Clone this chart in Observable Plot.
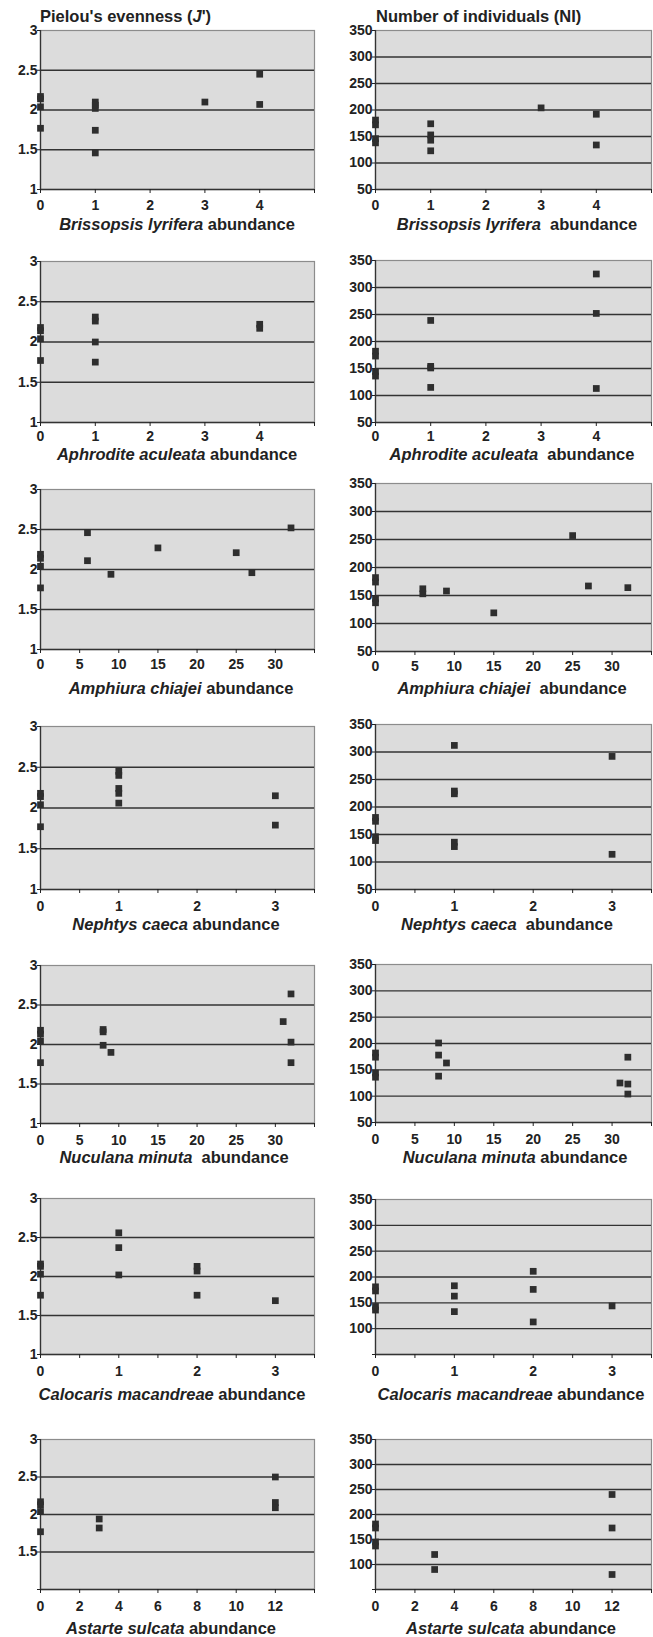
<!DOCTYPE html>
<html><head><meta charset="utf-8">
<script src="https://cdn.jsdelivr.net/npm/d3@7"></script>
<script src="https://cdn.jsdelivr.net/npm/@observablehq/plot@0.6"></script>
<style>
body{margin:0;background:#fff;font-family:"Liberation Sans",Arial,sans-serif;}
#root{position:relative;width:653px;height:1637px;overflow:hidden;background:#fff;}
.panel{position:absolute;}
.xlabel{position:absolute;font-weight:bold;font-size:16.5px;line-height:1;color:#222;white-space:pre;transform:translate(-50%,-50%);}
.title{position:absolute;font-weight:bold;font-size:16.5px;line-height:16px;color:#222;white-space:nowrap;}
</style></head><body><div id="root">
<div class="title" id="titleJ" style="left:40px;top:8px;"></div>
<div class="title" id="titleNI" style="left:376px;top:8px;"></div>
</div>
<script>
// ---------- data ----------
const speciesNames = ["Brissopsis lyrifera","Aphrodite aculeata","Amphiura chiajei","Nephtys caeca","Nuculana minuta","Calocaris macandreae","Astarte sulcata"];
const xMaxes = [5,5,35,3.5,35,3.5,14];
const xTickSteps = [1,1,5,0.5,5,0.5,2];
const xLabelSteps = [1,1,5,1,5,1,2];
const jTicks = [1,1.5,2,2.5,3];
const niTicks = [50,100,150,200,250,300,350];
const jTitle = "Pielou's evenness";
const niTitle = "Number of individuals (NI)";

const brissopsisAbundJ = [0,0,0,0,1,1,1,1,1,3,4,4];
const brissopsisJ      = [2.17,2.14,2.04,1.77,2.10,2.06,2.02,1.745,1.46,2.10,2.45,2.07];
const brissopsisAbundNI = [0,0,0,0,1,1,1,1,3,4,4];
const brissopsisNI      = [181,172,146,138,174,153,143,123,204,192,134];

const aphroditeAbundJ = [0,0,0,0,1,1,1,1,4,4];
const aphroditeJ      = [2.18,2.14,2.04,1.77,2.31,2.26,2.00,1.75,2.22,2.17];
const aphroditeAbundNI = [0,0,0,0,1,1,1,1,4,4,4];
const aphroditeNI      = [182,173,144,136,239,154,151,115,325,252,113];

const amphiuraAbundJ = [0,0,0,0,6,6,9,15,25,27,32];
const amphiuraJ      = [2.19,2.14,2.04,1.77,2.46,2.11,1.94,2.27,2.21,1.96,2.52];
const amphiuraAbundNI = [0,0,0,0,6,6,9,15,25,27,32];
const amphiuraNI      = [182,174,144,137,162,153,158,119,257,167,164];

const nephtysAbundJ = [0,0,0,0,1,1,1,1,1,3,3];
const nephtysJ      = [2.18,2.14,2.04,1.77,2.45,2.40,2.24,2.18,2.06,2.15,1.79];
const nephtysAbundNI = [0,0,0,0,1,1,1,1,1,3,3];
const nephtysNI      = [181,174,146,139,312,229,224,136,128,292,114];

const nuculanaAbundJ = [0,0,0,0,8,8,8,9,31,32,32,32];
const nuculanaJ      = [2.18,2.13,2.04,1.77,2.19,2.16,1.99,1.90,2.29,2.64,2.03,1.77];
const nuculanaAbundNI = [0,0,0,0,8,8,8,9,31,32,32,32];
const nuculanaNI      = [182,174,144,136,201,178,138,163,125,174,123,104];

const calocarisAbundJ = [0,0,0,0,1,1,1,2,2,2,3];
const calocarisJ      = [2.16,2.13,2.03,1.76,2.56,2.37,2.02,2.13,2.07,1.76,1.69];
const calocarisAbundNI = [0,0,0,0,1,1,1,2,2,2,3];
const calocarisNI      = [181,173,143,136,183,163,133,211,176,113,144];

const astarteAbundJ = [0,0,0,0,3,3,12,12,12];
const astarteJ      = [2.17,2.13,2.04,1.77,1.94,1.82,2.50,2.16,2.09];
const astarteAbundNI = [0,0,0,0,3,3,12,12,12];
const astarteNI      = [181,173,145,137,120,90,240,173,80];

const jSeries = [[brissopsisAbundJ,brissopsisJ],[aphroditeAbundJ,aphroditeJ],[amphiuraAbundJ,amphiuraJ],[nephtysAbundJ,nephtysJ],[nuculanaAbundJ,nuculanaJ],[calocarisAbundJ,calocarisJ],[astarteAbundJ,astarteJ]];
const niSeries = [[brissopsisAbundNI,brissopsisNI],[aphroditeAbundNI,aphroditeNI],[amphiuraAbundNI,amphiuraNI],[nephtysAbundNI,nephtysNI],[nuculanaAbundNI,nuculanaNI],[calocarisAbundNI,calocarisNI],[astarteAbundNI,astarteNI]];
// bottom y tick label absent on some panels (as in the original)
const hideBottomJ = [false,false,false,false,false,false,true];
const hideBottomNI = [false,false,false,false,false,true,true];

// ---------- layout ----------
const leftFrameX = [40,314];
const rightFrameX = [375,651];
const leftFrameY = [[30,189],[261,422],[489,649],[726,889],[965,1123],[1198,1354],[1439,1589]];
const rightFrameY = [[30,189],[260,422],[483,651],[724,889],[964,1122],[1199,1354],[1439,1589]];
const tickPads = [7,5,6,8,8,8,8];
const xLabelY = [224,454,688,924,1157,1394,1628];
const leftLabelX = [177,177,181,176,174,172,171];
const rightLabelX = [517,512,512,507,515,511,511];
const leftGap = [" "," "," "," ","  "," "," "];
const rightGap = ["  ","  ","  ","  "," "," "," "];

document.getElementById("titleJ").innerHTML = jTitle + " (<i>J</i>')";
document.getElementById("titleNI").textContent = niTitle;

const root = document.getElementById("root");
const mL = 36, mR = 2, mT = 8, mB = 28;

function fmt(v){ return String(v); }

function panel(fx, fy, xs, ys, xMax, tStep, lStep, yTicks, hideBottom, tickPad){
  const data = xs.map((x,i)=>({x, y: ys[i]}));
  const xTicks = d3.range(0, xMax + tStep/2, tStep);
  const yLo = yTicks[0], yHi = yTicks[yTicks.length-1];
  const fw = fx[1]-fx[0], fh = fy[1]-fy[0];
  const svg = Plot.plot({
    width: fw + mL + mR, height: fh + mT + mB,
    marginLeft: mL, marginRight: mR, marginTop: mT, marginBottom: mB,
    x: {domain: [0, xMax]},
    y: {domain: [yLo, yHi]},
    style: {fontFamily: '"Liberation Sans", Arial, sans-serif', fontSize: "14px", fontWeight: "bold", color: "#222", background: "transparent", overflow: "visible"},
    marks: [
      Plot.frame({fill: "#dcdcdc", stroke: "#8c8c8c", strokeWidth: 1.2}),
      Plot.ruleY(yTicks.slice(1, -1), {stroke: "#333", strokeWidth: 1.3}),
      Plot.ruleX([0], {stroke: "#333", strokeWidth: 1.3}),
      Plot.ruleY([yLo], {stroke: "#333", strokeWidth: 1.3}),
      Plot.axisY({ticks: yTicks, tickSize: 3, tickPadding: 0, label: null, fontWeight: "bold",
        tickFormat: d => (hideBottom && d === yLo) ? "" : fmt(d)}),
      Plot.axisX({ticks: xTicks, tickSize: 4, tickPadding: tickPad, label: null, fontWeight: "bold",
        tickFormat: d => (d >= xMax - 1e-9 || Math.abs(d/lStep - Math.round(d/lStep)) > 1e-9) ? "" : fmt(d)}),
      Plot.dot(data, {x: "x", y: "y", symbol: "square", r: 3.8, fill: "#2e2e2e", stroke: "none"})
    ]
  });
  const wrap = document.createElement("div");
  wrap.className = "panel";
  wrap.style.left = (fx[0] - mL) + "px";
  wrap.style.top = (fy[0] - mT) + "px";
  wrap.appendChild(svg);
  root.appendChild(wrap);
}

function xlabel(cx, cy, name, gap){
  const d = document.createElement("div");
  d.className = "xlabel";
  d.style.left = cx + "px";
  d.style.top = cy + "px";
  const i = document.createElement("i");
  i.textContent = name;
  d.appendChild(i);
  d.appendChild(document.createTextNode(gap + "abundance"));
  root.appendChild(d);
}

speciesNames.forEach((name, k) => {
  panel(leftFrameX, leftFrameY[k], jSeries[k][0], jSeries[k][1], xMaxes[k], xTickSteps[k], xLabelSteps[k], jTicks, hideBottomJ[k], tickPads[k]);
  panel(rightFrameX, rightFrameY[k], niSeries[k][0], niSeries[k][1], xMaxes[k], xTickSteps[k], xLabelSteps[k], niTicks, hideBottomNI[k], tickPads[k]);
  xlabel(leftLabelX[k], xLabelY[k], name, leftGap[k]);
  xlabel(rightLabelX[k], xLabelY[k], name, rightGap[k]);
});
</script></body></html>
